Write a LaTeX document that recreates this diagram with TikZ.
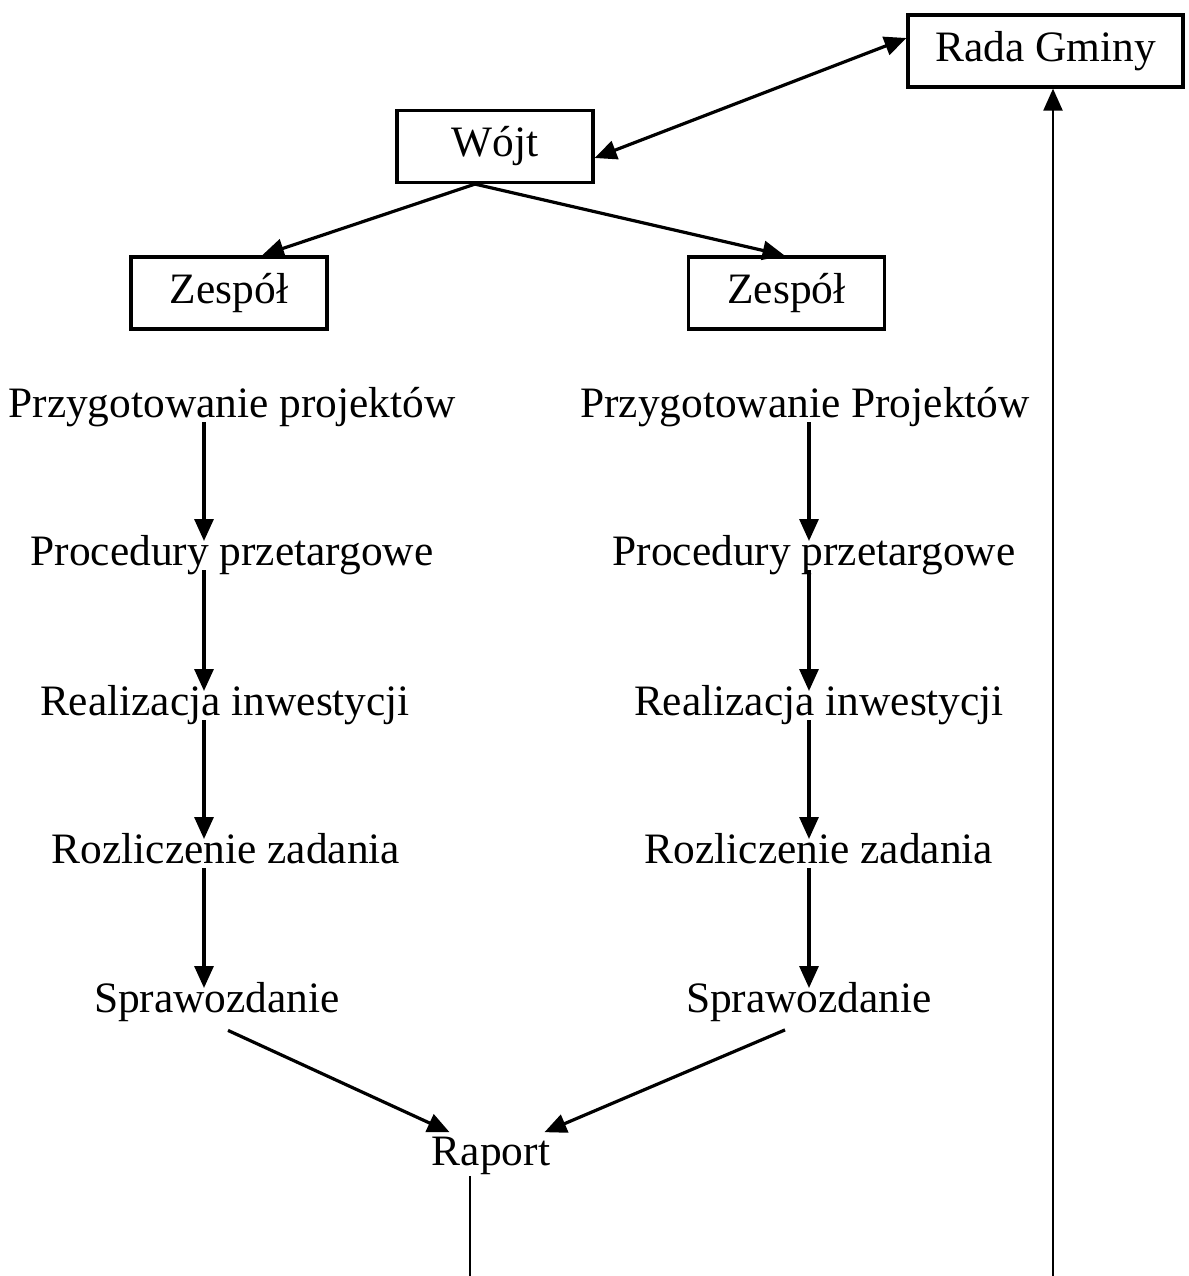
\documentclass[tikz,border=0pt]{standalone}
\usepackage{fontspec}
\setmainfont{Liberation Serif}
\usetikzlibrary{arrows.meta,calc}
\begin{document}
\begin{tikzpicture}[x=0.5pt,y=-0.5pt,
  every node/.style={font=\fontsize{21.7pt}{26pt}\selectfont},
  lbl/.style={inner sep=0pt, text depth=0.25em, anchor=base},
  box/.style={draw, line width=1.6pt, minimum width=98pt, minimum height=36pt, inner sep=0pt},
  arr/.style={line width=1.6pt, -{Triangle[length=11pt,width=9.5pt]}},
  darr/.style={line width=1.6pt, {Triangle[length=11pt,width=9.5pt]}-{Triangle[length=11pt,width=9.5pt]}},
  flow/.style={arr, shorten >=12pt},
  thinline/.style={line width=1.1pt}
]
\useasboundingbox (0,0) rectangle (1189,1276);

% boxes
\node[box, minimum width=137.5pt] (rada) at (1045.5,51) {Rada Gminy};
\node[box] (wojt) at (495,146.5) {Wójt};
\node[box] (zL) at (229,293) {Zespół};
\node[box] (zR) at (786.5,293) {Zespół};

% left column
\node[lbl] (pL) at (232,417) {Przygotowanie projektów};
\node[lbl] (qL) at (232,565) {Procedury przetargowe};
\node[lbl] (rL) at (225,715) {Realizacja inwestycji};
\node[lbl] (zzL) at (226,863) {Rozliczenie zadania};
\node[lbl] (sL) at (217,1012) {Sprawozdanie};

% right column
\node[lbl] (pR) at (805,417) {Przygotowanie Projektów};
\node[lbl] (qR) at (814,565) {Procedury przetargowe};
\node[lbl] (rR) at (819,715) {Realizacja inwestycji};
\node[lbl] (zzR) at (819,863) {Rozliczenie zadania};
\node[lbl] (sR) at (809,1012) {Sprawozdanie};

\node[lbl] (rap) at (491,1165) {Raport};

\coordinate (lx) at (204,0);
\coordinate (rx) at (809,0);
\coordinate (botL) at (470,1276);
\coordinate (botR) at (1053,1276);

% top connectors
\draw[darr] ($(wojt.east)+(0,11.5)$) -- ($(rada.west)+(0,-13)$);
\draw[arr] ($(wojt.south)+(-20,0)$) -- ($(zL.north)+(33,0)$);
\draw[arr] ($(wojt.south)+(-20,0)$) -- ($(zR.north)+(-2,0)$);

% left flow
\draw[flow] (pL.south -| lx) -- (qL.base -| lx);
\draw[flow] (qL.south -| lx) -- (rL.base -| lx);
\draw[flow] (rL.south -| lx) -- (zzL.base -| lx);
\draw[flow] (zzL.south -| lx) -- (sL.base -| lx);

% right flow
\draw[flow] (pR.south -| rx) -- (qR.base -| rx);
\draw[flow] (qR.south -| rx) -- (rR.base -| rx);
\draw[flow] (rR.south -| rx) -- (zzR.base -| rx);
\draw[flow] (zzR.south -| rx) -- (sR.base -| rx);

% to Raport
\draw[arr] ($(sL.south)+(11,13)$) -- ($(rap.north west)+(18,-4)$);
\draw[arr] ($(sR.south)+(-24,12.5)$) -- ($(rap.north east)+(-6,-4)$);

% bottom lines
\draw[thinline, shorten <=3pt] (rap.south -| botL) -- (botL);
\draw[thinline, -{Triangle[length=11pt,width=9.5pt]}] (botR) -- (rada.south -| botR);
\end{tikzpicture}
\end{document}
